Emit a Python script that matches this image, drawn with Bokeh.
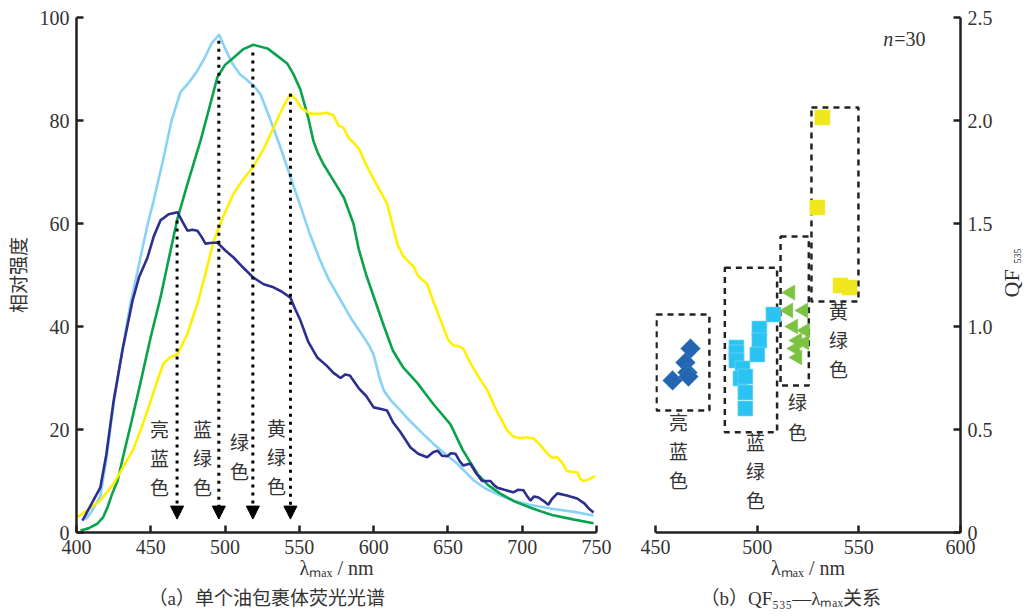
import math
from bokeh.plotting import figure
from bokeh.layouts import row
from bokeh.models import Range1d, Label, Arrow, NormalHead, ColumnDataSource, FixedTicker, Title
from bokeh.core.properties import value
from bokeh.embed import file_html
from bokeh.resources import INLINE

# ---------------- data: (a) spectra ----------------
navy_wl = [404, 410, 416, 420, 425, 431, 437.7, 442, 447.8, 452, 456.5, 462, 468, 471, 474.7, 478, 481.4, 484,
           486.8, 490, 494.8, 500, 505.7, 512, 519, 526, 532.6, 538, 544, 547, 550.7, 556, 562, 568, 573, 577.7,
           581, 584, 590, 595, 600, 605, 609, 613, 618, 624.8, 630, 636, 640, 643, 646, 649.6, 652, 655, 658,
           660.4, 665, 669, 673, 678.6, 681, 683.3, 688, 694, 697, 700.8, 703, 705.5, 708, 711, 714, 717.6, 720,
           723.7, 730, 737, 742, 745, 748]
navy_i = [2.3, 5.5, 8.7, 15, 25.6, 35.5, 45, 49.5, 53.4, 57.5, 60.6, 61.8, 62.2, 60.5, 58.6, 58.8, 58.6, 57.5,
          56.1, 56.2, 56.3, 54.8, 53.4, 51.5, 49.5, 48.2, 47.6, 46.8, 45.6, 43.5, 41.2, 37, 34, 32.5, 31, 30,
          30.7, 30.5, 28, 26.5, 24.3, 24, 23.7, 21.4, 19.5, 16.5, 15.3, 14.6, 15.6, 15.9, 14.9, 14.8, 15.4, 15.3,
          13.8, 13, 13.4, 11.5, 10, 10, 9.2, 8.7, 8.3, 7.8, 8.3, 8.2, 7.2, 6.2, 7, 6.8, 6.2, 5.4, 6.5,
          7.6, 7.2, 6.6, 5.6, 4.6, 3.9]

lblue_wl = [406, 410, 416, 420, 425, 430, 436, 442, 448, 452, 458, 464, 470, 476, 481, 486, 491, 496, 500, 505,
            510, 515, 520, 524, 530, 537, 544, 550, 557, 564, 570, 578, 585, 592, 597, 600, 604, 607, 612, 618,
            625, 632, 640, 648, 655, 661, 667, 675, 685, 694, 705, 720, 735, 748]
lblue_i = [2.5, 4, 7, 14, 25, 34, 44, 52, 60, 64.5, 72, 80, 85.5, 87.5, 89.5, 92, 95, 96.7, 94, 91,
           89, 87.8, 86.5, 85, 80.5, 75, 69, 64, 58, 52.8, 49, 45, 41.5, 38.5, 36.3, 34.5, 30, 27.5, 25.5, 23.7,
           21.5, 19.5, 17.3, 15.3, 13.7, 12, 10.2, 8.6, 7.2, 6.2, 5.4, 4.6, 4, 3.3]

green_wl = [402.7, 408, 414, 418, 421, 424, 427.6, 432, 437, 443, 450, 456.5, 462, 468, 475, 483.4, 489, 494.8,
            500, 505.7, 512, 519, 528.5, 535, 542, 546, 550.7, 556, 559.5, 562, 566, 572, 580, 586.4, 590, 595,
            601, 607, 613, 620, 629.5, 640, 651.7, 660, 669.8, 677, 685, 695, 707.5, 720, 735, 748]
green_i = [0.4, 0.8, 1.7, 3, 5, 7.5, 10, 15.5, 21.5, 29, 38, 45.6, 53, 61, 68, 76, 82, 88.4,
           90.8, 92.2, 93.8, 94.7, 94, 92.6, 91, 89, 86, 80.5, 76, 74, 71.6, 68.8, 65, 60, 55, 50,
           45, 40, 35.3, 32, 29, 25, 21, 16, 11.4, 9.2, 7.6, 6, 4.6, 3.4, 2.5, 1.8]

yellow_wl = [400.7, 408, 416, 425, 431, 438, 444, 450, 455, 458.5, 463, 468, 472, 474.7, 478, 482, 487, 492.5,
             499, 505.7, 512, 519, 526, 532.6, 538, 544, 548, 551, 557.5, 564, 568, 573, 576.3, 579.7, 583, 586,
             590, 594, 598, 603, 609, 612, 616, 620, 624.8, 627, 629.5, 633, 636, 640, 647, 650, 653.7, 657,
             660.4, 664, 670, 676.6, 683, 690, 694, 698.8, 703, 707.5, 712, 717, 720, 723.7, 727, 730, 733,
             737, 739, 741, 745, 749]
yellow_i = [3, 4.5, 6.2, 9.5, 12.5, 16, 20.5, 25.6, 30, 32.8, 34, 34.6, 37, 38.6, 41.5, 45, 50.5, 56.7,
            61.5, 65.8, 68.5, 71, 74.5, 78.6, 82, 85.2, 84, 82.5, 81.3, 81.3, 81.5, 81, 79, 78.6, 76.7, 75.8,
            74.6, 72, 69.7, 67, 63.9, 60.5, 56, 53.6, 52.2, 51.6, 50, 49, 48.3, 45, 39.8, 37.5, 36.3, 36.2,
            35.7, 33.5, 30.5, 27.6, 23.5, 19.8, 18.6, 18.3, 18.5, 18.3, 17, 15.3, 14.5, 14.6, 13.5, 12, 11.8,
            11.7, 10.5, 10, 10.3, 11]

peak_wl = [467.7, 495.8, 518.7, 544.0]
peak_top = [60.6, 95.5, 93.2, 85.2]
arrow_tip = 2.6
class_a_text = ["亮\n蓝\n色", "蓝\n绿\n色", "绿\n色", "黄\n绿\n色"]
class_a_x = [455.9, 484.8, 509.7, 534.6]
class_a_y = [14.6, 14.6, 14.8, 14.8]

# ---------------- data: (b) QF535 vs lambda_max ----------------
lb_x = [467.2, 464.7, 465.7, 466.2, 458.4]
lb_y = [0.893, 0.825, 0.777, 0.757, 0.738]
bg_x = [508.0, 501.1, 501.1, 500.1, 489.8, 489.8, 489.8, 492.8, 491.8, 494.2, 494.2, 494.2]
bg_y = [1.058, 0.990, 0.932, 0.864, 0.898, 0.874, 0.835, 0.796, 0.748, 0.757, 0.680, 0.602]
g_x = [516.4, 515.4, 522.8, 517.8, 523.7, 519.8, 523.3, 518.8, 519.8]
g_y = [1.165, 1.078, 1.078, 1.000, 0.981, 0.932, 0.922, 0.893, 0.850]
yg_x = [532.1, 529.6, 541.0, 545.4]
yg_y = [2.015, 1.578, 1.199, 1.189]
box_left = [450.5, 484.1, 511.5, 526.7]
box_right = [476.5, 509.8, 525.4, 549.8]
box_bottom = [0.592, 0.487, 0.714, 1.121]
box_top = [1.058, 1.285, 1.437, 2.063]
class_b_text = ["亮\n蓝\n色", "蓝\n绿\n色", "绿\n色", "黄\n绿\n色"]
class_b_x = [461.3, 499.2, 519.8, 540.0]
class_b_y = [0.398, 0.301, 0.563, 0.937]

x_ticks_a = [400, 450, 500, 550, 600, 650, 700, 750]
y_ticks_a = [0, 20, 40, 60, 80, 100]
x_ticks_b = [450, 500, 550, 600]
y_ticks_b = [0, 0.5, 1.0, 1.5, 2.0, 2.5]
y_labels_b = ["0", "0.5", "1.0", "1.5", "2.0", "2.5"]

SERIF = "Liberation Serif"
CJK = "Noto Sans CJK SC"
MIXED = "Liberation Serif, Noto Sans CJK SC"
TXT = "#333333"
AX = "#231f20"
H = 612
TOP = 17
BOT = H - 532


def style_axis(ax):
    ax.axis_line_width = 2.5
    ax.axis_line_color = AX
    ax.major_tick_line_width = 2.5
    ax.major_tick_line_color = AX
    ax.major_tick_in = 7
    ax.major_tick_out = 0
    ax.minor_tick_line_color = None
    ax.major_label_text_font = SERIF
    ax.major_label_text_font_size = "20px"
    ax.major_label_text_color = TXT
    ax.major_label_standoff = 7
    ax.axis_label_text_color = TXT
    ax.axis_label_text_font_style = "normal"


def style_xlabel(ax):
    ax.axis_label = "λₘₐₓ / nm"
    ax.axis_label_text_font = SERIF
    ax.axis_label_text_font_size = "20px"
    ax.axis_label_standoff = 0


# ---------------- figure (a) ----------------
p1 = figure(width=628, height=H, x_range=Range1d(400, 750), y_range=Range1d(0, 100),
            output_backend="svg", toolbar_location=None,
            min_border_left=76, min_border_right=32, min_border_top=TOP, min_border_bottom=BOT)
p1.grid.visible = False
p1.outline_line_color = None
p1.xaxis.ticker = FixedTicker(ticks=x_ticks_a)
p1.yaxis.ticker = FixedTicker(ticks=y_ticks_a)
for ax in p1.xaxis + p1.yaxis:
    style_axis(ax)
p1.yaxis.axis_label = "相对强度"
p1.yaxis.axis_label_text_font = CJK
p1.yaxis.axis_label_text_font_size = "19px"
p1.yaxis.axis_label_standoff = 6
style_xlabel(p1.xaxis[0])

p1.line(lblue_wl, lblue_i, line_color="#88d3f5", line_width=2.6)
p1.line(green_wl, green_i, line_color="#0aa24c", line_width=2.6)
p1.line(yellow_wl, yellow_i, line_color="#fff000", line_width=2.6)
p1.line(navy_wl, navy_i, line_color="#2c2f8f", line_width=2.6)

arr_src = ColumnDataSource(dict(x0=peak_wl, y0=peak_top, x1=peak_wl, y1=[arrow_tip] * len(peak_wl)))
p1.add_layout(Arrow(source=arr_src, x_start="x0", y_start="y0", x_end="x1", y_end="y1",
                    line_color="black", line_width=3, line_dash="3 5",
                    end=NormalHead(size=13, fill_color="black", line_color="black", line_width=1)))

p1.text(x=class_a_x, y=class_a_y, text=class_a_text, text_font=value(CJK), text_font_size="19px",
        text_color=TXT, text_align="center", text_baseline="middle", text_line_height=1.08)

p1.add_layout(Title(text="（a）单个油包裹体荧光光谱", align="left", offset=72, standoff=8,
                    text_font=MIXED, text_font_size="19px", text_font_style="normal", text_color=TXT), "below")

# ---------------- figure (b) ----------------
p2 = figure(width=368, height=H, x_range=Range1d(450, 600), y_range=Range1d(0, 2.5),
            y_axis_location="right", output_backend="svg", toolbar_location=None,
            min_border_left=27, min_border_right=36, min_border_top=TOP, min_border_bottom=BOT)
p2.grid.visible = False
p2.outline_line_color = None
p2.xaxis.ticker = FixedTicker(ticks=x_ticks_b)
p2.yaxis.ticker = FixedTicker(ticks=y_ticks_b)
p2.yaxis.major_label_overrides = {t: l for t, l in zip(y_ticks_b, y_labels_b)}
for ax in p2.xaxis + p2.yaxis:
    style_axis(ax)
style_xlabel(p2.xaxis[0])

p2.quad(left=box_left, right=box_right, bottom=box_bottom, top=box_top, fill_color=None,
        line_color="#222222", line_width=2.5, line_dash="6 5")

p2.scatter(lb_x, lb_y, marker="square", size=14, angle=math.pi / 4, fill_color="#2265b1",
           line_color="#4a86c6", line_width=0.5)
p2.scatter(bg_x, bg_y, marker="square", size=15, fill_color="#2bc4f2", line_color="#7ad8f6", line_width=0.6)
p2.scatter(g_x, g_y, marker="triangle", size=15, angle=math.pi / 2, fill_color="#7dc242",
           line_color="#7dc242", line_width=0.5)
p2.scatter(yg_x, yg_y, marker="square", size=15, fill_color="#f1e71f", line_color="#f1e71f", line_width=0.5)

p2.text(x=class_b_x, y=class_b_y, text=class_b_text, text_font=value(CJK), text_font_size="19px",
        text_color=TXT, text_align="center", text_baseline="middle", text_line_height=1.08)

p2.add_layout(Label(x=562, y=2.398, text="n", text_font=SERIF, text_font_style="italic",
                    text_font_size="20px", text_color=TXT, text_align="left", text_baseline="middle"))
p2.add_layout(Label(x=562, x_offset=11, y=2.398, text="=30", text_font=SERIF,
                    text_font_size="20px", text_color=TXT, text_align="left", text_baseline="middle"))

p2.add_layout(Title(text="（b）QF₅₃₅—λₘₐₓ关系", align="left", offset=45, standoff=8,
                    text_font=MIXED, text_font_size="19px", text_font_style="normal", text_color=TXT), "below")

# ---------------- narrow strip holding the QF535 axis title of (b), sharing its y scale ----------------
p3 = figure(width=32, height=H, x_range=Range1d(0, 32), y_range=p2.y_range,
            x_axis_type=None, y_axis_type=None, output_backend="svg", toolbar_location=None,
            min_border_left=0, min_border_right=0, min_border_top=TOP, min_border_bottom=BOT)
p3.grid.visible = False
p3.outline_line_color = None
p3.text(x=[15], y=[1.141], text=["QF"], angle=math.pi / 2, text_font=value(SERIF), text_font_size="22px",
        text_color=TXT, text_align="left", text_baseline="middle")
p3.text(x=[21], y=[1.306], text=["535"], angle=math.pi / 2, text_font=value(SERIF), text_font_size="10px",
        text_color=TXT, text_align="left", text_baseline="middle")

layout = row(p1, p2, p3)
open("out.html", "w").write(file_html(layout, INLINE))
